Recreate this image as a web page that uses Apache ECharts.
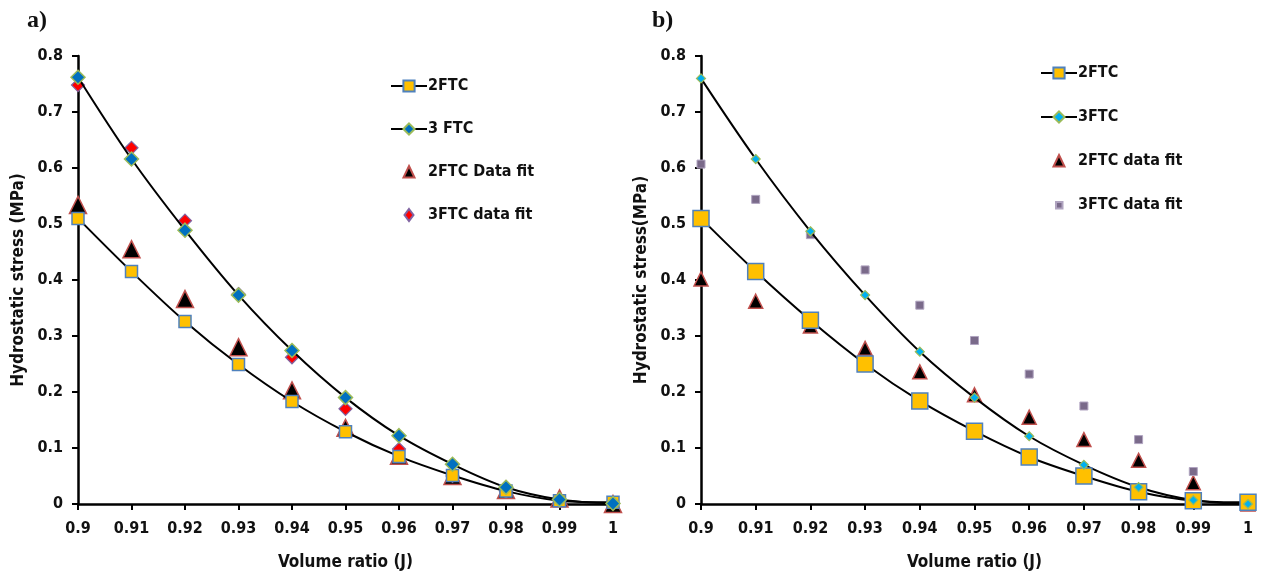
<!DOCTYPE html>
<html><head><meta charset="utf-8">
<script src="https://cdn.jsdelivr.net/npm/echarts@6/dist/echarts.min.js"></script>
<style>
html,body{margin:0;padding:0;background:#fff;}
#wrap{position:relative;width:1263px;height:579px;}
#a{position:absolute;left:0;top:0;width:631px;height:579px;}
#b{position:absolute;left:631px;top:0;width:632px;height:579px;}
</style></head>
<body><div id="wrap"><div id="a"></div><div id="b"></div></div>
<script>
// ---- data ----
const xVals = [0.9, 0.91, 0.92, 0.93, 0.94, 0.95, 0.96, 0.97, 0.98, 0.99, 1];
const yTicks = [0, 0.1, 0.2, 0.3, 0.4, 0.5, 0.6, 0.7, 0.8];
// panel a
const a2FTC     = [0.51, 0.415, 0.326, 0.249, 0.183, 0.129, 0.085, 0.051, 0.023, 0.006, 0.003];
const a3FTC     = [0.762, 0.616, 0.489, 0.373, 0.274, 0.19, 0.122, 0.071, 0.03, 0.008, 0.001];
const a2FTCfit  = [0.534, 0.455, 0.366, 0.28, 0.203, 0.136, 0.086, 0.05, 0.025, 0.01, 0];
const a3FTCfit  = [0.748, 0.636, 0.506, 0.375, 0.262, 0.17, 0.098, 0.05, 0.022, 0.007, 0.002];
// panel b
const b2FTC     = [0.51, 0.415, 0.328, 0.25, 0.184, 0.13, 0.084, 0.05, 0.022, 0.006, 0.003];
const b3FTC     = [0.76, 0.616, 0.487, 0.373, 0.272, 0.19, 0.121, 0.07, 0.03, 0.007, 0];
const b2FTCfit  = [0.402, 0.362, 0.318, 0.278, 0.236, 0.195, 0.155, 0.115, 0.078, 0.038, 0];
const b3FTCfit  = [0.607, 0.544, 0.481, 0.418, 0.355, 0.292, 0.232, 0.175, 0.115, 0.058, 0];

const pairs = arr => xVals.map((x, i) => [x, arr[i]]);
const FONT = "'Liberation Sans Narrow','DejaVu Sans Condensed','Arial Narrow',sans-serif";
const TXT = '#111';

// legend icons (padded with invisible moves so they keep a fixed size)
const ICON_TRI = 'path://M0,0M14,14M7,1L12.5,12.5L1.5,12.5Z';
const ICON_DIA = 'path://M0,0M14,14M7,1L11.5,7L7,13L2.5,7Z';
const ICON_SQ  = 'path://M0,0M14,14M4,4L10.5,4L10.5,10.5L4,10.5Z';

function axes(yName, yGap) {
  return {
    xAxis: {
      type: 'value', min: 0.9, max: 1, interval: 0.01,
      name: 'Volume ratio (J)', nameLocation: 'middle', nameGap: 50,
      nameTextStyle: {fontFamily: FONT, fontWeight: 'bold', fontSize: 17, color: TXT},
      axisLine: {show: true, onZero: false, lineStyle: {color: '#000', width: 2.5}},
      axisTick: {show: true, length: 6, lineStyle: {color: '#000', width: 2}},
      axisLabel: {fontFamily: FONT, fontWeight: 'bold', fontSize: 16, color: TXT, margin: 17,
        formatter: v => String(+(+v).toFixed(2))},
      splitLine: {show: false}
    },
    yAxis: {
      type: 'value', min: 0, max: 0.8, interval: 0.1,
      name: yName, nameLocation: 'middle', nameGap: yGap,
      nameTextStyle: {fontFamily: FONT, fontWeight: 'bold', fontSize: 17, color: TXT},
      axisLine: {show: true, lineStyle: {color: '#000', width: 2.5}},
      axisTick: {show: true, length: 6, lineStyle: {color: '#000', width: 2}},
      axisLabel: {fontFamily: FONT, fontWeight: 'bold', fontSize: 16, color: TXT, margin: 15,
        formatter: v => String(+(+v).toFixed(1))},
      splitLine: {show: false}
    }
  };
}

function lineSeries(name, data, symbol, size, fill, border, bw) {
  return {
    name, type: 'line', data: pairs(data), smooth: 0.35,
    symbol, symbolSize: size, showSymbol: true,
    lineStyle: {color: '#000', width: 2},
    itemStyle: {color: fill, borderColor: border, borderWidth: bw},
    emphasis: {disabled: true}
  };
}
function scatterSeries(name, data, symbol, size, fill, border, bw) {
  return {
    name, type: 'scatter', data: pairs(data),
    symbol, symbolSize: size,
    itemStyle: {color: fill, borderColor: border, borderWidth: bw, opacity: 1},
    emphasis: {disabled: true}
  };
}

const legendBase = {
  orient: 'vertical', itemWidth: 36, itemHeight: 14, itemGap: 27,
  textStyle: {fontFamily: FONT, fontWeight: 'bold', fontSize: 16, color: TXT, padding: [0,0,0,-4]},
  selectedMode: false
};

const chartA = echarts.init(document.getElementById('a'), null, {renderer: 'canvas'});
const axA = axes('Hydrostatic stress (MPa)', 47);
chartA.setOption({
  animation: false,
  title: {text: 'a)', left: 22, top: 4, textStyle: {fontFamily: "'Liberation Serif','DejaVu Serif',serif", fontWeight: 'bold', fontSize: 24, color: TXT}},
  grid: {left: 78, right: 18, top: 56, bottom: 75, containLabel: false, outerBoundsMode: 'none'},
  xAxis: axA.xAxis, yAxis: axA.yAxis,
  legend: Object.assign({}, legendBase, {left: 385, top: 73,
    data: ['2FTC', '3 FTC', {name: '2FTC Data fit', icon: ICON_TRI}, {name: '3FTC data fit', icon: ICON_DIA}]}),
  series: [
    lineSeries('2FTC', a2FTC, 'rect', 12, '#FFC000', '#4F81BD', 1.5),
    lineSeries('3 FTC', a3FTC, 'diamond', 14, '#0070C0', '#9BBB59', 1.5),
    scatterSeries('2FTC Data fit', a2FTCfit, 'triangle', 17, '#000000', '#C0504D', 1.5),
    scatterSeries('3FTC data fit', a3FTCfit, 'diamond', 13, '#FF0000', '#8064A2', 1.2)
  ]
});

const chartB = echarts.init(document.getElementById('b'), null, {renderer: 'canvas'});
const axB = axes('Hydrostatic stress(MPa)', 43);
chartB.setOption({
  animation: false,
  title: {text: 'b)', left: 16, top: 4, textStyle: {fontFamily: "'Liberation Serif','DejaVu Serif',serif", fontWeight: 'bold', fontSize: 24, color: TXT}},
  grid: {left: 70, right: 15, top: 56, bottom: 75, containLabel: false, outerBoundsMode: 'none'},
  xAxis: axB.xAxis, yAxis: axB.yAxis,
  legend: Object.assign({}, legendBase, {left: 404, top: 60, itemGap: 28,
    data: ['2FTC', '3FTC', {name: '2FTC data fit', icon: ICON_TRI}, {name: '3FTC data fit', icon: ICON_SQ}]}),
  series: [
    lineSeries('2FTC', b2FTC, 'rect', 16, '#FFC000', '#4F81BD', 1.5),
    lineSeries('3FTC', b3FTC, 'diamond', 9, '#00B0F0', '#9BBB59', 1.2),
    scatterSeries('2FTC data fit', b2FTCfit, 'triangle', 14, '#000000', '#C0504D', 1.5),
    scatterSeries('3FTC data fit', b3FTCfit, 'rect', 8, '#7A6A8A', '#B0A4C0', 1)
  ]
});
</script>
</body></html>
